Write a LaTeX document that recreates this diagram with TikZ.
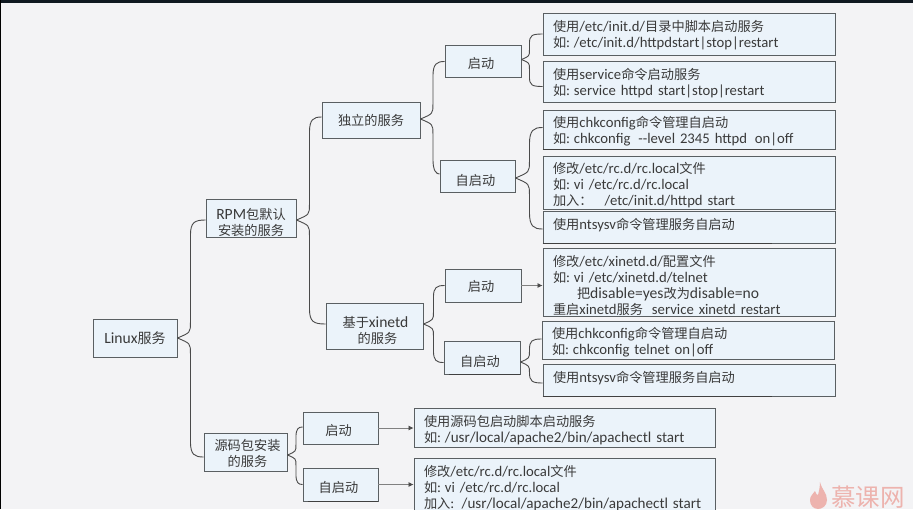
\documentclass[tikz,border=0pt]{standalone}
\usepackage{fontspec}
\setmainfont[WordSpace=0.85]{Carlito}
\newfontfamily\cjk{Noto Sans CJK SC}
\newcommand\zh[1]{{\cjk\fontsize{13.2}{16}\selectfont #1}}
\newcommand\lat[1]{{\fontsize{15.6}{16}\selectfont #1}}
\newcommand\wider[1]{{\fontsize{15.1}{16}\selectfont #1}}
\newcommand\ru{\zh{如}:\kern-3.5pt\relax}
% x shift, y shift (down), text: moves the text without changing its reported size
\newcommand\mv[3]{\raisebox{-#2pt}[\height][\depth]{\kern#1pt #3\kern-#1pt}}
\usetikzlibrary{calc,arrows.meta}
\definecolor{pagebg}{HTML}{F3F3F5}
\definecolor{boxfill}{HTML}{EBF3FA}
\definecolor{boxline}{HTML}{5A5F62}
\definecolor{ink}{HTML}{3A3A3A}
\definecolor{wire}{HTML}{4A4A4A}
\definecolor{topbar}{HTML}{0F1820}
\definecolor{wmcolor}{HTML}{EDB3AE}
\tikzset{
  x=1pt,y=-1pt,
  base/.style={draw=boxline,fill=boxfill,line width=0.9pt,text=ink,font=\fontsize{14.7}{16}\selectfont,inner sep=0pt},
  topic/.style 2 args={base,align=center,minimum width=#1pt,minimum height=#2pt},
  leaf/.style 2 args={base,align=left,minimum width=#1pt,minimum height=#2pt,text width=#1pt-20pt,inner xsep=10pt,execute at begin node={\rule{0pt}{15.6pt}}},
  wireline/.style={draw=wire,line width=0.9pt},
  arrowline/.style={draw=gray,line width=0.7pt,-{Latex[length=5pt,width=5pt,color=wire]}},
  heavy/.style={draw=black!75,line width=1.3pt},
}
% parent, child, gap, parent dy, child dy
\newcommand\conn[5]{%
  \draw[wireline] let \p1=($(#1.east)+(0,#4)$),\p2=($(#2.west)+(0,#5)$),
    \n1={ifthenelse(\y2>\y1,1,-1)*1.2*#3},\n2={\x1+#3} in
    (\p1) .. controls (\n2,\y1+0.35*\n1) .. (\n2,\y1+\n1) -- (\n2,\y2-\n1)
    .. controls (\n2,\y2-0.15*\n1) and (\n2+0.3*#3,\y2) .. (\p2);}
\begin{document}
\begin{tikzpicture}
\clip (0,0) rectangle (913,509);
\fill[pagebg] (0,0) rectangle (913,509);
\fill[topbar] (0,0) rectangle (913,3);
\fill[black] (0,0) rectangle (1,509);

\node[topic={84}{38}] (linux) at (135,338) {\lat{Linux}{\cjk\fontsize{14}{16}\selectfont 服务}};
\node[topic={90}{38}] (rpm) at (251,218) {\mv{0}{4.5}{\lat{RPM}\zh{包默认}}\\\mv{0}{4.5}{\zh{安装的服务}}};
\node[topic={83}{38}] (src) at (245.5,452) {\mv{2}{1}{\zh{源码包安装}}\\\mv{2}{1}{\zh{的服务}}};
\node[topic={98}{36}] (indep) at (371,120) {\zh{独立的服务}};
\node[topic={97}{46}] (xin) at (374.5,326) {\mv{1}{4}{\zh{基于}\lat{xinetd}}\\\mv{3}{4}{\zh{的服务}}};
\node[topic={76}{32}] (s1) at (483,61.5) {\mv{-2}{2}{\zh{启动}}};
\node[topic={75}{32}] (a1) at (477.5,176) {\mv{-2}{4}{\zh{自启动}}};
\node[topic={76}{33}] (s2) at (483,285.5) {\mv{-2}{1}{\zh{启动}}};
\node[topic={76}{33}] (a2) at (482,357.5) {\mv{-2}{4}{\zh{自启动}}};
\node[topic={75}{32}] (s3) at (340.5,428) {\mv{-2}{2}{\zh{启动}}};
\node[topic={75}{33}] (a3) at (340.5,484.5) {\mv{-2}{3}{\zh{自启动}}};

\node[leaf={292}{42}] (la) at (689,34) {\mv{0}{-1}{\zh{使用}/etc/init.d/\zh{目录中脚本启动服务}}\\\mv{0}{-1}{\ru{} /etc/init.d/httpdstart|stop|restart}};
\node[leaf={292}{41}] (lb) at (689,81.5) {\mv{0}{-1}{\zh{使用}service\zh{命令启动服务}}\\\mv{0}{-1}{\ru{} service httpd start|stop|restart}};
\node[leaf={292}{39}] (lc) at (689,129.5) {\mv{0}{-1}{\zh{使用}chkconfig\zh{命令管理自启动}}\\\mv{0}{-1}{\ru{} chkconfig\hspace{3pt} {-}{-}level 2345 httpd\hspace{3pt} on|off}};
\node[leaf={292}{53}] (ld) at (689,182.5) {\zh{修改}/etc/rc.d/rc.local\zh{文件}\\\ru{} vi /etc/rc.d/rc.local\\\zh{加入：}\hspace{12pt}/etc/init.d/httpd start};
\node[leaf={292}{32}] (le) at (689,227) {\mv{0}{-4.5}{\zh{使用}ntsysv\zh{命令管理服务自启动}}};
\node[leaf={292}{68}] (lf) at (689,282) {\mv{0}{1}{\zh{修改}/etc/xinetd.d/\zh{配置文件}}\\\mv{0}{1}{\ru{} vi /etc/xinetd.d/telnet}\\\mv{0}{1}{\hspace{24pt}\zh{把}{\fontsize{15.6}{16}\selectfont disable=yes}\zh{改为}{\fontsize{15.6}{16}\selectfont disable=no}}\\\mv{0}{1}{\zh{重启}xinetd\zh{服务}\hspace{9pt}service xinetd restart}};
\node[leaf={292}{38}] (lg) at (688,340) {\zh{使用}chkconfig\zh{命令管理自启动}\\\ru{} chkconfig telnet on|off};
\node[leaf={292}{32}] (lh) at (689,380) {\mv{0}{-4.5}{\zh{使用}ntsysv\zh{命令管理服务自启动}}};
\node[leaf={301}{39}] (li) at (564.5,427.5) {\zh{使用源码包启动脚本启动服务}\\\ru{} \wider{/usr/local/apache2/bin/apachectl start}};
\node[leaf={301}{56}] (lj) at (564.5,486) {\zh{修改}/etc/rc.d/rc.local\zh{文件}\\\ru{} vi /etc/rc.d/rc.local\\\zh{加入}: \wider{/usr/local/apache2/bin/apachectl start}};

\draw[heavy] (lc.south west) -- ++(229,0);
\draw[heavy] (le.south west) -- ++(229,0);
\draw[heavy] (lh.south west) -- ++(229,0);
\draw[heavy] ($(a2.south west)+(5,0)$) -- (a2.south east);
\draw[heavy] ($(a3.south west)+(5,0)$) -- (a3.south east);

\conn{linux}{rpm}{13}{0}{2}
\conn{linux}{src}{13}{0}{5}
\conn{rpm}{indep}{13}{2}{-3}
\conn{rpm}{xin}{13}{2}{-2}
\conn{indep}{s1}{12.5}{-1}{0}
\conn{indep}{a1}{12.5}{-1}{-2}
\conn{s1}{la}{8}{-2}{0}
\conn{s1}{lb}{8}{-2}{5}
\conn{a1}{lc}{14}{2}{-2}
\conn{a1}{le}{14}{2}{2}
\conn{xin}{s2}{10}{-2}{0}
\conn{xin}{a2}{10}{-2}{5}
\conn{a2}{lg}{9}{4.5}{-1}
\conn{a2}{lh}{9}{4.5}{3}
\conn{src}{s3}{8.5}{3}{-1}
\conn{src}{a3}{8.5}{3}{0}
\draw[arrowline] (s2.east) -- (s2.east -| lf.west);
\draw[arrowline] (s3.east) -- (s3.east -| li.west);
\draw[arrowline] (a3.east) -- (a3.east -| lj.west);

\fill[wmcolor] (820,482) .. controls (822,490) and (827,493) .. (827,500) .. controls (827,506) and (822,509) .. (818,509) .. controls (813,509) and (810,505) .. (810,500) .. controls (810,496) and (813,494) .. (815,491) .. controls (816,494) and (817,495) .. (818,495) .. controls (819,491) and (820,487) .. (820,482) -- cycle;
\node[text=wmcolor,inner sep=0pt] (wm) at (868,497.5) {\cjk\fontsize{24.5}{25}\selectfont 慕课网};
\end{tikzpicture}
\end{document}
